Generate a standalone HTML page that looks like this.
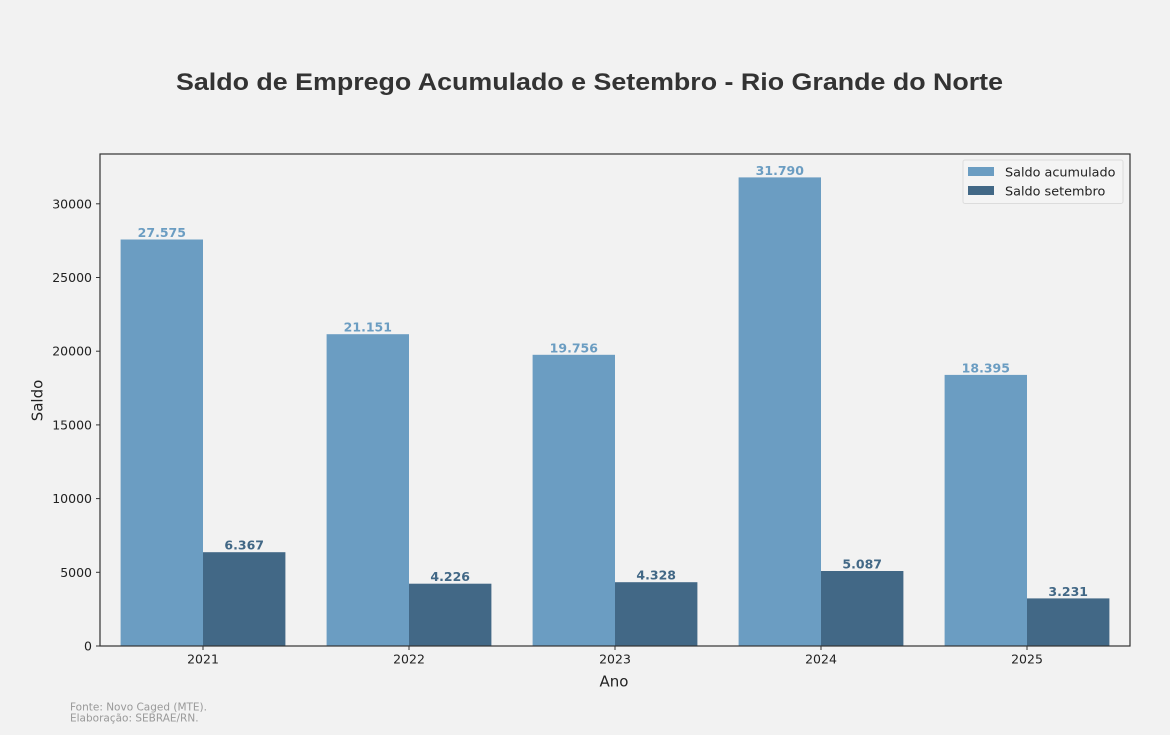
<!DOCTYPE html>
<html><head><meta charset="utf-8"><style>
html,body{margin:0;padding:0;background:#f2f2f2;}
svg{display:block;}
</style></head><body>
<svg width="1170" height="735" viewBox="0 0 1170 735" xmlns="http://www.w3.org/2000/svg">
<rect width="1170" height="735" fill="#f2f2f2"/>
<text x="589.5" y="90" text-anchor="middle" font-family="Liberation Sans, Arial, sans-serif" font-weight="bold" font-size="24" fill="#333333" textLength="827" lengthAdjust="spacingAndGlyphs">Saldo de Emprego Acumulado e Setembro - Rio Grande do Norte</text>

<g font-family="DejaVu Sans, sans-serif">
<!-- bars -->
<g fill="#6b9dc2">
<rect x="120.6" y="239.5" width="82.4" height="406.5"/>
<rect x="326.6" y="334.2" width="82.4" height="311.8"/>
<rect x="532.6" y="354.8" width="82.4" height="291.2"/>
<rect x="738.6" y="177.4" width="82.4" height="468.6"/>
<rect x="944.6" y="374.9" width="82.4" height="271.1"/>
</g>
<g fill="#426886">
<rect x="203" y="552.2" width="82.4" height="93.8"/>
<rect x="409" y="583.7" width="82.4" height="62.3"/>
<rect x="615" y="582.2" width="82.4" height="63.8"/>
<rect x="821" y="571.0" width="82.4" height="75.0"/>
<rect x="1027" y="598.4" width="82.4" height="47.6"/>
</g>
<!-- bar labels -->
<g font-size="12.5" font-weight="bold" text-anchor="middle">
<g fill="#6b9dc2">
<text x="161.8" y="237">27.575</text>
<text x="367.8" y="331.7">21.151</text>
<text x="573.8" y="352.3">19.756</text>
<text x="779.8" y="174.9">31.790</text>
<text x="985.8" y="372.4">18.395</text>
</g>
<g fill="#426886">
<text x="244.2" y="549.7">6.367</text>
<text x="450.2" y="581.2">4.226</text>
<text x="656.2" y="579.7">4.328</text>
<text x="862.2" y="568.5">5.087</text>
<text x="1068.2" y="595.9">3.231</text>
</g>
</g>
<!-- axes -->
<rect x="100" y="154" width="1030" height="492" fill="none" stroke="#333" stroke-width="1.2"/>
<g stroke="#333" stroke-width="1">
<line x1="96" y1="646" x2="100" y2="646"/>
<line x1="96" y1="572.3" x2="100" y2="572.3"/>
<line x1="96" y1="498.6" x2="100" y2="498.6"/>
<line x1="96" y1="424.9" x2="100" y2="424.9"/>
<line x1="96" y1="351.2" x2="100" y2="351.2"/>
<line x1="96" y1="277.5" x2="100" y2="277.5"/>
<line x1="96" y1="203.8" x2="100" y2="203.8"/>
<line x1="203" y1="646" x2="203" y2="650"/>
<line x1="409" y1="646" x2="409" y2="650"/>
<line x1="615" y1="646" x2="615" y2="650"/>
<line x1="821" y1="646" x2="821" y2="650"/>
<line x1="1027" y1="646" x2="1027" y2="650"/>
</g>
<g font-size="12.5" fill="#222" text-anchor="end">
<text x="92" y="650.5">0</text>
<text x="92" y="576.8">5000</text>
<text x="92" y="503.1">10000</text>
<text x="92" y="429.4">15000</text>
<text x="92" y="355.7">20000</text>
<text x="92" y="282">25000</text>
<text x="92" y="208.3">30000</text>
</g>
<g font-size="12.5" fill="#222" text-anchor="middle">
<text x="203" y="663.5">2021</text>
<text x="409" y="663.5">2022</text>
<text x="615" y="663.5">2023</text>
<text x="821" y="663.5">2024</text>
<text x="1027" y="663.5">2025</text>
</g>
<text x="614" y="686.7" text-anchor="middle" font-size="15" fill="#222">Ano</text>
<text transform="translate(42.5,400.5) rotate(-90)" text-anchor="middle" font-size="15" fill="#222">Saldo</text>

<!-- legend -->
<rect x="963" y="160" width="160" height="43.5" rx="2" fill="#f4f4f4" stroke="#dcdcdc" stroke-width="1"/>
<rect x="968" y="167" width="26" height="9" fill="#6b9dc2"/>
<rect x="968" y="186" width="26" height="9" fill="#426886"/>
<g font-size="12.8" fill="#222">
<text x="1005" y="176.5">Saldo acumulado</text>
<text x="1005" y="195.5">Saldo setembro</text>
</g>

<!-- source -->
<g font-size="10.5" fill="#999">
<text x="70" y="710.5">Fonte: Novo Caged (MTE).</text>
<text x="70" y="721.5">Elaboração: SEBRAE/RN.</text>
</g>
</g>
</svg>
</body></html>
